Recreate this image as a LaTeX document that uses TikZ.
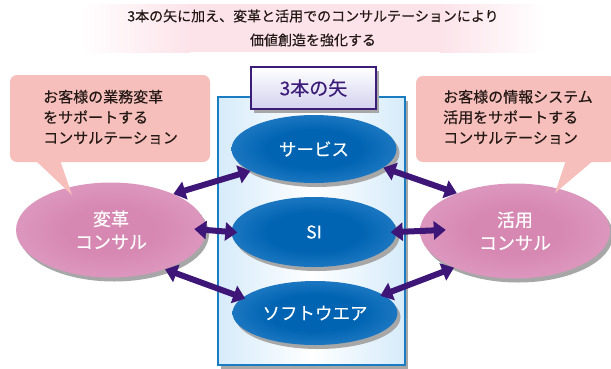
\documentclass[tikz,border=0pt]{standalone}
\usepackage{fontspec}
\setmainfont{Noto Sans CJK JP}[FakeBold=0.25]
\usetikzlibrary{arrows.meta,shapes.geometric,shadows}
\definecolor{txt}{HTML}{231815}
\definecolor{callpink}{HTML}{F6BFBB}
\definecolor{bannerpink}{HTML}{FCE3EA}
\definecolor{arrowc}{HTML}{3D1677}
\definecolor{boxblue}{HTML}{D6EBFA}
\definecolor{boxborder}{HTML}{1B7DC1}
\definecolor{lblborder}{HTML}{3B1C78}
\definecolor{lavender}{HTML}{D3D1EE}
\definecolor{bluein}{HTML}{0064B2}
\definecolor{bluemid}{HTML}{1E78C2}
\definecolor{blueout}{HTML}{5C9BD6}
\definecolor{pinkin}{HTML}{D688B2}
\definecolor{pinkmid}{HTML}{DD98BF}
\definecolor{pinkout}{HTML}{ECBED7}
\definecolor{shadowgray}{HTML}{A7A7A7}
\pgfdeclareradialshading{blueglow}{\pgfpoint{0bp}{0bp}}{color(0bp)=(bluein); color(14bp)=(bluein); color(26bp)=(bluemid); color(40bp)=(blueout); color(50bp)=(blueout)}
\pgfdeclareradialshading{pinkglow}{\pgfpoint{0bp}{0bp}}{color(0bp)=(pinkin); color(12bp)=(pinkin); color(26bp)=(pinkmid); color(40bp)=(pinkout); color(50bp)=(pinkout)}
\tikzset{
  shadowed/.style={drop shadow={shadow xshift=3pt,shadow yshift=-4pt,fill=shadowgray,opacity=1}},
  callbox/.style={rectangle,rounded corners=7pt,fill=callpink,inner sep=0pt},
  calltext/.style={text=txt,align=left,font=\fontsize{15}{20.5}\selectfont,inner sep=0pt},
  blueell/.style={ellipse,inner sep=0pt,minimum width=165pt,minimum height=68pt,
    shading=blueglow,shadowed,text=white,font=\fontsize{17.5}{21}\selectfont},
  pinkell/.style={ellipse,inner sep=0pt,minimum width=190pt,minimum height=95pt,
    shading=pinkglow,shadowed,text=white,align=center,font=\fontsize{18}{23}\selectfont},
  biarrow/.style={arrowc,line width=6pt,
    {Triangle[width=18pt,length=12pt]}-{Triangle[width=18pt,length=12pt]}}
}
\begin{document}
\begin{tikzpicture}[x=1pt,y=-1pt]
\useasboundingbox (0,0) rectangle (611,368);
% banner
\shade[left color=white,right color=bannerpink] (80,4) rectangle (190,52);
\fill[bannerpink] (189.5,4) rectangle (440.5,52);
\shade[left color=bannerpink,right color=white] (440,4) rectangle (545,52);
\node[text=txt,align=center,font=\fontsize{14}{24}\selectfont] (banner) at (313,28)
  {3本の矢に加え、変革と活用でのコンサルテーションにより\\価値創造を強化する};
% central box
\node[rectangle,draw=boxborder,line width=2pt,minimum width=187pt,minimum height=268pt,
  left color=boxblue,right color=boxblue,middle color=white,shadowed] (box) at (311.5,231) {};
% label
\node[rectangle,draw=lblborder,line width=2.5pt,minimum width=125pt,minimum height=42pt,
  top color=white,bottom color=lavender,shadowed,text=lblborder,
  font=\fontsize{19}{22}\selectfont] (label) at (313.5,88) {3本の矢};
% callouts
\node[callbox,minimum width=200pt,minimum height=87pt] (c1) at (110,118.5) {};
\node[callbox,minimum width=200pt,minimum height=86pt] (c2) at (516,119) {};
% blue ellipses
\node[blueell] (svc) at (314,149) {サービス};
\node[blueell,minimum height=70pt] (si) at (314,232) {SI};
\node[blueell,minimum height=64pt] (soft) at (315,313) {ソフトウエア};
% pink ellipses
\node[pinkell] (kaku) at (111,230) {変革\\コンサル};
\node[pinkell] (katsu) at (515,231) {活用\\コンサル};
% callout tails
\coordinate (t1a) at (35,160);
\coordinate (t1b) at (60,160);
\coordinate (t1) at (72,195);
\fill[callpink] (t1a) -- (t1b) -- (t1) -- cycle;
\coordinate (t2a) at (566,160);
\coordinate (t2b) at (594,160);
\coordinate (t2) at (555,193);
\fill[callpink] (t2a) -- (t2b) -- (t2) -- cycle;
% callout text
\node[calltext,anchor=west] (c1t) at (43,117) {お客様の業務変革\\をサポートする\\コンサルテーション};
\node[calltext,anchor=west] (c2t) at (443,117) {お客様の情報システム\\活用をサポートする\\コンサルテーション};
% arrows
\draw[biarrow] (kaku.30) -- (svc.199);
\draw[biarrow,shorten <=-12pt,shorten >=-6pt] (kaku.0) -- (si.180);
\draw[biarrow,shorten >=-3pt] (kaku.-36) -- (soft.168);
\draw[biarrow] (svc.-15) -- (katsu.147);
\draw[biarrow,shorten <=-6pt,shorten >=-26pt] (si.0) -- (katsu.180);
\draw[biarrow,shorten <=-3pt] (soft.15) -- (katsu.211);
\end{tikzpicture}
\end{document}
